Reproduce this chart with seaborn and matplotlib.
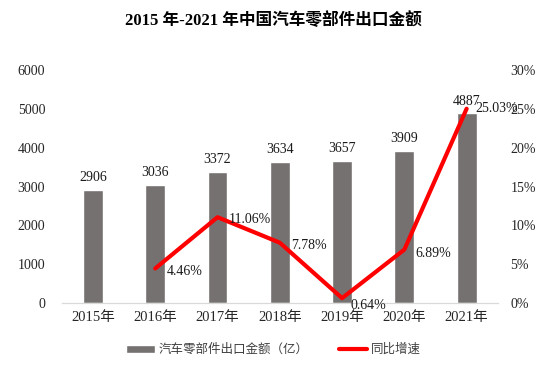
import matplotlib
matplotlib.use("Agg")
import matplotlib.pyplot as plt
import seaborn as sns
import pandas as pd
from matplotlib.ticker import FuncFormatter

years = ["2015年", "2016年", "2017年", "2018年", "2019年", "2020年", "2021年"]
export_value = [2906, 3036, 3372, 3634, 3657, 3909, 4887]
growth_years = ["2016年", "2017年", "2018年", "2019年", "2020年", "2021年"]
growth_rate = [4.46, 11.06, 7.78, 0.64, 6.89, 25.03]

sns.set_style("white")
plt.rcParams["font.family"] = ["Liberation Serif", "Noto Sans CJK SC"]

bar_df = pd.DataFrame({"year": years, "value": export_value})
line_df = pd.DataFrame({"year": growth_years, "rate": growth_rate})
line_df["pos"] = [years.index(y) for y in growth_years]

fig = plt.figure(figsize=(5.47, 3.71), dpi=100)
ax = fig.add_axes([0.113, 0.183, 0.797, 0.628])

sns.barplot(data=bar_df, x="year", y="value", color="#767171", width=0.32,
            saturation=1, ax=ax, label="汽车零部件出口金额（亿）")
ax.set_ylim(0, 6000)
ax.set_yticks(range(0, 6001, 1000))
ax.set_xlim(-0.5, len(years) - 0.5)
ax.set_xlabel("")
ax.set_ylabel("")
for i, v in enumerate(export_value):
    ax.text(i, v + 150, str(v), ha="center", va="bottom", fontsize=10,
            family="Liberation Serif", color="#1a1a1a")

ax2 = ax.twinx()
sns.lineplot(data=line_df, x="pos", y="rate", color="#ff0000", linewidth=3,
             ax=ax2, label="同比增速")
ax2.set_ylim(0, 30)
ax2.set_yticks(range(0, 31, 5))
ax2.yaxis.set_major_formatter(FuncFormatter(lambda v, p: f"{v:.0f}%"))
ax2.set_xlim(-0.5, len(years) - 0.5)
ax2.set_xlabel("")
ax2.set_ylabel("")
offsets = [(8, -2), (8, -2), (8, -2), (6, -5), (8, -3), (6, 0)]
for p, r, off in zip(line_df["pos"], growth_rate, offsets):
    ax2.annotate(f"{r:.2f}%", (p, r), xytext=off, textcoords="offset points",
                 ha="left", va="center", fontsize=10, family="Liberation Serif",
                 color="#1a1a1a")

for a in (ax, ax2):
    for s in ("top", "left", "right"):
        a.spines[s].set_visible(False)
    a.spines["bottom"].set_color("#d9d9d9")
    a.tick_params(length=0, labelsize=10, colors="#262626")
ax.tick_params(axis="y", pad=12)
ax2.tick_params(axis="y", pad=9)
ax.tick_params(axis="x", pad=6, labelsize=10.5)

h1, l1 = ax.get_legend_handles_labels()
h2, l2 = ax2.get_legend_handles_labels()
ax2.get_legend().remove()
if ax.get_legend():
    ax.get_legend().remove()
fig.legend(h1 + h2, l1 + l2, loc="center", bbox_to_anchor=(0.5, 0.058), ncol=2,
           frameon=False, prop={"family": "Noto Sans CJK SC", "size": 9},
           columnspacing=2.4, handlelength=2.3, handleheight=0.6,
           handletextpad=0.3, labelcolor="#404040")

fig.text(0.5, 0.945, "2015 年-2021 年中国汽车零部件出口金额", ha="center", va="center",
         fontsize=12, fontweight="bold", color="black",
         family=["Liberation Serif", "Noto Sans CJK SC"])

fig.savefig("out.png", dpi=100)
